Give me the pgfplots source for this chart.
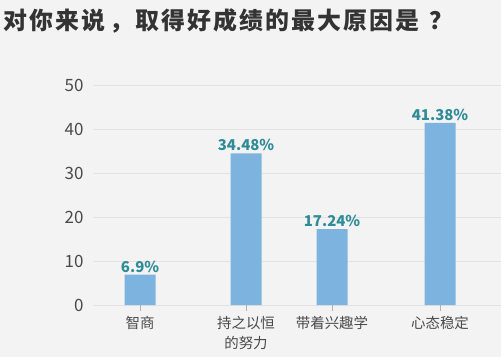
\documentclass[border=0pt]{standalone}
\usepackage{pgfplots}
\pgfplotsset{compat=1.18}
\usepackage{fontspec}
\setmainfont{Noto Sans CJK SC}
\definecolor{bg}{HTML}{F4F3F4}
\definecolor{barc}{HTML}{7DB3DF}
\definecolor{lab}{HTML}{2F8C96}
\definecolor{tickc}{HTML}{4A4A4A}
\definecolor{gridc}{HTML}{E2E2E2}
\definecolor{titlec}{HTML}{333333}
\begin{document}
\begin{tikzpicture}[x=1bp,y=1bp]
\fill[bg] (0,0) rectangle (501,357);
\useasboundingbox (0,0) rectangle (501,357);
\node[anchor=west, inner sep=0pt, font=\fontsize{24}{24}\selectfont\bfseries\addfontfeature{LetterSpace=9}, text=titlec] at (3,336) {对你来说\hspace{4bp}，取得好成绩的最大原因是\hspace{10bp}？};
\begin{axis}[
  at={(93bp,52bp)}, anchor=south west,
  scale only axis, width=408bp, height=220bp,
  xmin=93, xmax=501, ymin=0, ymax=50,
  ybar, bar width=31,
  axis line style={draw=none},
  ymajorgrids, grid style={gridc, line width=0.8pt},
  ytick={0,10,...,50},
  xtick={140,246,332,440},
  xticklabels={智商, {持之以恒\\的努力}, 带着兴趣学, 心态稳定},
  xticklabel style={align=center, font=\fontsize{14.5}{20}\selectfont, text=tickc, yshift=-2bp},
  yticklabel style={font=\fontsize{17}{17}\selectfont, text=tickc},
  /pgf/number format/assume math mode=true,
  ytick style={draw=none},
  xtick style={draw=gray!60, line width=0.6pt},
  tick align=outside, xtick pos=bottom,
  major tick length=6bp,
  nodes near coords, point meta=explicit symbolic,
  nodes near coords style={font=\fontsize{15}{15}\selectfont\bfseries, text=lab, inner sep=2pt},
]
\addplot[fill=barc, draw=none] table[meta=l] {
x y l
140 6.9 6.9\%
246 34.48 34.48\%
332 17.24 17.24\%
440 41.38 41.38\%
};
\end{axis}
\end{tikzpicture}
\end{document}
